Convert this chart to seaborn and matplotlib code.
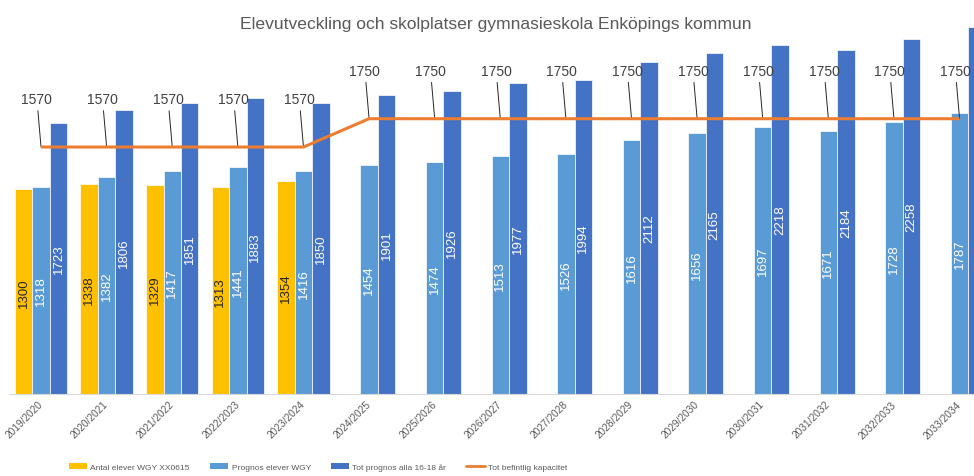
import numpy as np
import pandas as pd
import matplotlib
matplotlib.use("Agg")
import matplotlib.pyplot as plt
import seaborn as sns
from matplotlib.patches import Patch
from matplotlib.lines import Line2D

years = ["2019/2020", "2020/2021", "2021/2022", "2022/2023", "2023/2024",
         "2024/2025", "2025/2026", "2026/2027", "2027/2028", "2028/2029",
         "2029/2030", "2030/2031", "2031/2032", "2032/2033", "2033/2034"]
antal_elever = [1300, 1338, 1329, 1313, 1354,
                np.nan, np.nan, np.nan, np.nan, np.nan,
                np.nan, np.nan, np.nan, np.nan, np.nan]
prognos_wgy = [1318, 1382, 1417, 1441, 1416, 1454, 1474, 1513, 1526, 1616,
               1656, 1697, 1671, 1728, 1787]
tot_prognos = [1723, 1806, 1851, 1883, 1850, 1901, 1926, 1977, 1994, 2112,
               2165, 2218, 2184, 2258, 2335]
kapacitet = [1570, 1570, 1570, 1570, 1570, 1750, 1750, 1750, 1750, 1750,
             1750, 1750, 1750, 1750, 1750]

series_names = ["Antal elever WGY XX0615", "Prognos elever WGY",
                "Tot prognos alla 16-18 år"]
line_name = "Tot befintlig kapacitet"
colors = ["#FFC000", "#5B9BD5", "#4472C4"]
line_color = "#ED7D31"
text_gray = "#595959"

df = pd.DataFrame({
    "year": years * 3,
    "series": [s for s in series_names for _ in years],
    "value": antal_elever + prognos_wgy + tot_prognos,
}).dropna()

sns.set_theme(style="white")
plt.rcParams["font.family"] = ["Liberation Sans", "DejaVu Sans"]

fig = plt.figure(figsize=(9.74, 4.77), dpi=100)
ax = fig.add_axes([10 / 974, 82 / 477, 964 / 974, 395 / 477])

sns.barplot(data=df, x="year", y="value", hue="series", order=years,
            hue_order=series_names, palette=colors, saturation=1,
            errorbar=None, edgecolor="white", linewidth=0.5, legend=False,
            ax=ax)

# values written vertically in the middle of each bar; the last bar runs
# past the right edge, so its value stays unwritten
xmax = 14.22
for cont, col in zip(ax.containers, ["#262626", "white", "white"]):
    labels = []
    for rect in cont:
        cx = rect.get_x() + rect.get_width() / 2
        labels.append(f"{rect.get_height():.0f}" if cx < xmax - 0.1 else "")
    ax.bar_label(cont, labels=labels, label_type="center", rotation=90,
                 color=col, fontsize=9.5)

# capacity line with leader-line labels
xpos = np.arange(len(years))
ax.plot(xpos, kapacitet, color=line_color, lw=2.2, solid_capstyle="butt",
        zorder=4)
for x, v in zip(xpos, kapacitet):
    ax.annotate(f"{v}", xy=(x, v), xytext=(-3, 34.5),
                textcoords="offset points", ha="center", va="center",
                fontsize=10, color="#404040",
                arrowprops=dict(arrowstyle="-", color="#262626", lw=0.7,
                                shrinkA=1, shrinkB=0))

ax.set_xlim(-0.473, xmax)
ax.set_ylim(0, 2511)
ax.set_xlabel("")
ax.set_ylabel("")
ax.set_yticks([])
for side in ["top", "left", "right"]:
    ax.spines[side].set_visible(False)
ax.spines["bottom"].set_color("#D9D9D9")
ax.spines["bottom"].set_linewidth(0.8)
ax.tick_params(axis="x", length=0, pad=6)
for lab in ax.get_xticklabels():
    lab.set_rotation(45)
    lab.set_ha("right")
    lab.set_va("center")
    lab.set_rotation_mode("anchor")
    lab.set_fontsize(7.3)
    lab.set_color(text_gray)

fig.text(496 / 974, 1 - 25 / 477,
         "Elevutveckling och skolplatser gymnasieskola Enköpings kommun",
         ha="center", va="center", fontsize=12.6, color=text_gray)

handles = [Patch(facecolor=c, edgecolor="none") for c in colors]
handles.append(Line2D([0], [0], color=line_color, lw=2))
fig.legend(handles, series_names + [line_name], loc="center",
           bbox_to_anchor=(318 / 974, 1 - 468 / 477), ncol=4, frameon=False,
           fontsize=6.0, handlelength=2.2, handleheight=0.75,
           handletextpad=0.4, columnspacing=2.4, labelcolor=text_gray)

fig.savefig("out.png", dpi=100)
